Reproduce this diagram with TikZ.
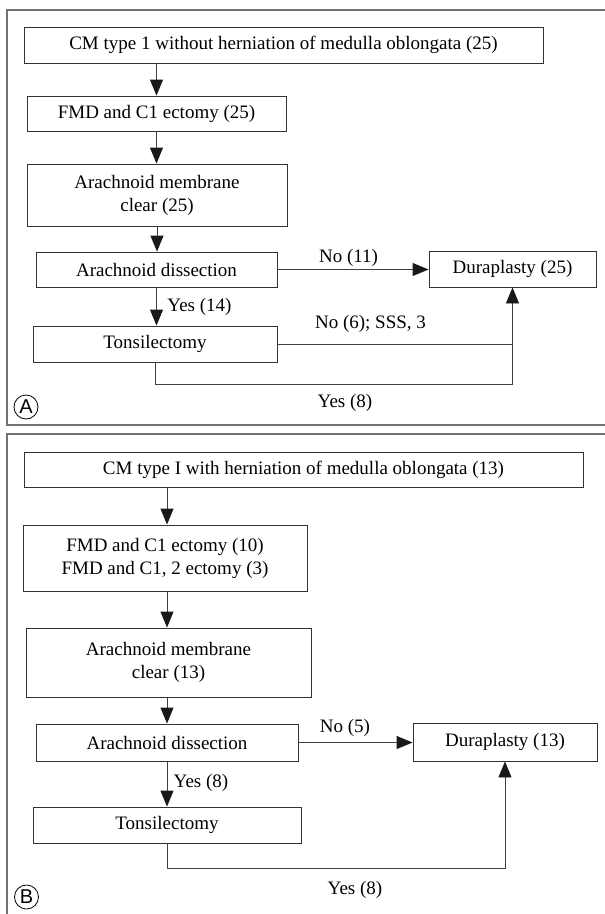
\documentclass[tikz,border=0pt]{standalone}
\usepackage{fontspec}
\setmainfont{Liberation Serif}
\newfontfamily\labfont{Liberation Sans}
\usetikzlibrary{arrows.meta}
\begin{document}
\begin{tikzpicture}[x=1pt,y=-1pt,
  box/.style={draw=black!80, line width=0.9pt, inner sep=0pt, align=center,
    font=\fontsize{19}{23}\selectfont},
  lab/.style={inner sep=0pt, font=\fontsize{19}{23}\selectfont},
  conn/.style={draw=black!75, line width=0.9pt},
  arr/.style={conn, -{Triangle[length=16pt,width=13pt,color=black!90]}},
  frame/.style={draw=black!55, line width=1.6pt},
  panel/.style={circle, draw=black, line width=0.8pt, minimum size=24pt, inner sep=0pt,
    font=\labfont\fontsize{20}{20}\selectfont}]
\useasboundingbox (0,0) rectangle (605,914);
\fill[white] (0,0) rectangle (605,914);

% ---------- Panel A ----------
\draw[frame] (612,10) -- (7,10) -- (7,425) -- (612,425);

\node[box, minimum width=519pt, minimum height=36pt] (a1) at (283.5,45)
  {CM type 1 without herniation of medulla oblongata (25)};
\node[box, minimum width=259pt, minimum height=35pt] (a2) at (156.5,113.5)
  {FMD and C1 ectomy (25)};
\node[box, minimum width=260pt, minimum height=62pt] (a3) at (157,195)
  {Arachnoid membrane\\clear (25)};
\node[box, minimum width=241pt, minimum height=35pt] (a4) at (156.5,269.5)
  {Arachnoid dissection};
\node[box, minimum width=167pt, minimum height=36pt] (a5) at (512.5,269)
  {Duraplasty (25)};
\node[box, minimum width=244pt, minimum height=36pt] (a6) at (155,344)
  {Tonsilectomy};

\draw[arr] (a2.north |- a1.south) -- (a2.north);
\draw[arr] (a2.south) -- (a2.south |- a3.north);
\draw[arr] (a3.south) -- (a3.south |- a4.north);
\draw[arr] (a4.east) -- (a4.east -| a5.west);
\draw[arr] (a4.south) -- (a4.south |- a6.north);
\draw[conn] (a6.east) -- (a6.east -| a5.south);
\coordinate (aturn) at (155,384);
\draw[arr] (a6.south) -- (aturn) -| (a5.south);

\node[lab] (l1) at (348.5,258) {No (11)};
\node[lab] (l2) at (199.5,307) {Yes (14)};
\node[lab] (l3) at (370.5,324) {No (6); SSS, 3};
\node[lab] (l4) at (345,403) {Yes (8)};
\node[panel] (pa) at (26,407) {A};

% ---------- Panel B ----------
\draw[frame] (612,434) -- (7,434) -- (7,920);

\node[box, minimum width=559pt, minimum height=35pt] (b1) at (303.5,469.5)
  {CM type I with herniation of medulla oblongata (13)};
\node[box, minimum width=284pt, minimum height=66pt] (b2) at (165,558)
  {FMD and C1 ectomy (10)\\FMD and C1, 2 ectomy (3)};
\node[box, minimum width=285pt, minimum height=69pt] (b3) at (168.5,662.5)
  {Arachnoid membrane\\clear (13)};
\node[box, minimum width=262pt, minimum height=37pt] (b4) at (167,742.5)
  {Arachnoid dissection};
\node[box, minimum width=184pt, minimum height=38pt] (b5) at (505,742)
  {Duraplasty (13)};
\node[box, minimum width=268pt, minimum height=36pt] (b6) at (167,825)
  {Tonsilectomy};

\draw[arr] (b4.north |- b1.south) -- (b4.north |- b2.north);
\draw[arr] (b4.north |- b2.south) -- (b4.north |- b3.north);
\draw[arr] (b4.north |- b3.south) -- (b4.north);
\draw[arr] (b4.east) -- (b4.east -| b5.west);
\draw[arr] (b4.south) -- (b4.south |- b6.north);
\coordinate (bturn) at (167,868);
\draw[arr] (b6.south) -- (bturn) -| (b5.south);

\node[lab] (m1) at (345,728) {No (5)};
\node[lab] (m2) at (201,783) {Yes (8)};
\node[lab] (m3) at (355,890) {Yes (8)};
\node[panel] (pb) at (26.5,897) {B};
\end{tikzpicture}
\end{document}
